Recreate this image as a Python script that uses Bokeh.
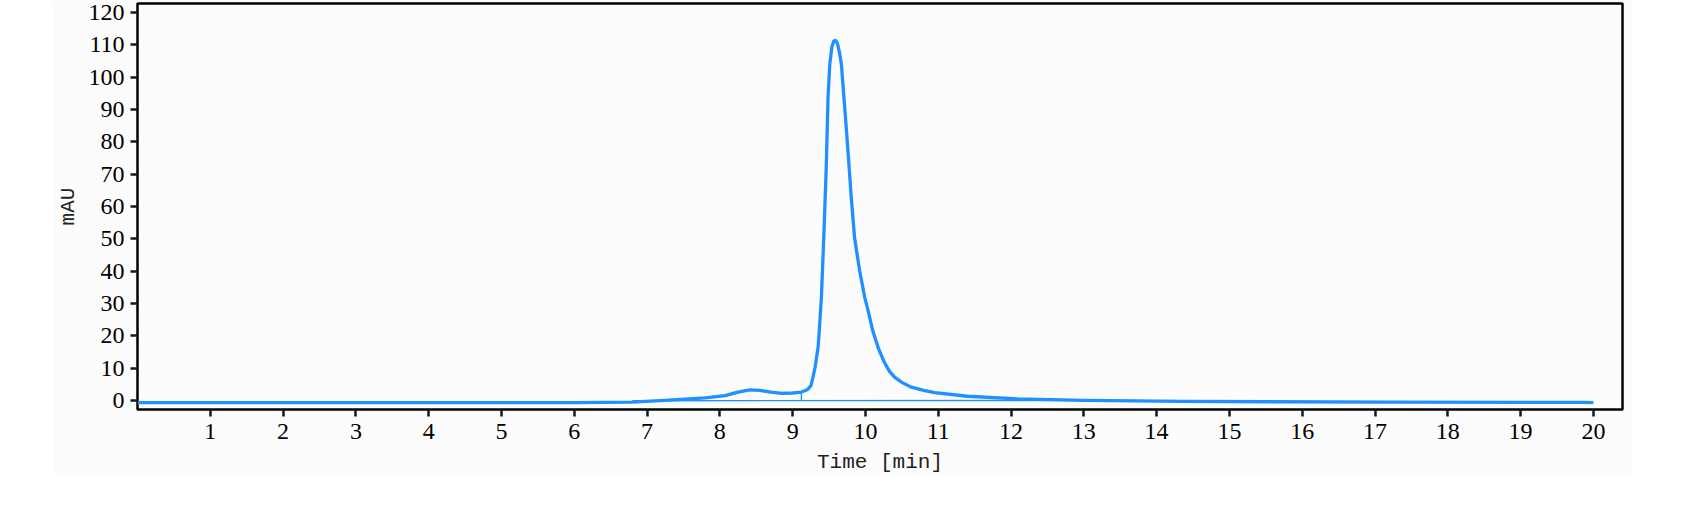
from bokeh.plotting import figure
from bokeh.models import FixedTicker, Range1d
from bokeh.embed import file_html
from bokeh.resources import INLINE

# Chromatogram trace (time in min, signal in mAU)
time_min = [0.0, 6.0, 6.8, 7.3, 7.8, 8.07, 8.25, 8.41, 8.55, 8.7, 8.85, 9.0, 9.12,
            9.2, 9.25, 9.28, 9.31, 9.35, 9.37, 9.395, 9.431, 9.463, 9.486, 9.51,
            9.54, 9.565, 9.59, 9.615, 9.64, 9.67, 9.70, 9.74, 9.77, 9.805, 9.85,
            9.88, 9.92, 9.99, 10.04, 10.10, 10.18, 10.26, 10.33, 10.40, 10.50,
            10.63, 10.80, 10.95, 11.40, 12.09, 13.0, 14.37, 15.6, 17.2, 19.86, 20.0]
signal_mau = [-0.7, -0.7, -0.5, 0.1, 0.8, 1.5, 2.6, 3.3, 3.1, 2.6, 2.2, 2.3, 2.6,
              3.3, 4.5, 7.2, 10.5, 16.5, 23.0, 31.9, 52.5, 73.1, 93.7, 104.0,
              109.5, 111.2, 111.4, 110.5, 108.0, 104.0, 95.0, 83.4, 74.0, 62.8, 50.5,
              46.0, 40.2, 31.9, 27.5, 21.6, 16.0, 11.8, 9.0, 7.2, 5.6,
              4.1, 3.1, 2.4, 1.3, 0.5, 0.0, -0.3, -0.4, -0.5, -0.6, -0.7]

# Integration baseline and peak-start marker
baseline_t = [6.8, 13.5]
baseline_v = [-0.1, 0.0]
marker_t = [9.12, 9.12]
marker_v = [0.0, 2.6]

x_ticks = list(range(1, 21))
y_ticks = list(range(0, 121, 10))

p = figure(width=1579, height=476, output_backend="svg", toolbar_location=None,
           x_range=Range1d(0, 20.4), y_range=Range1d(-2.8, 122.8),
           min_border_left=79, min_border_right=10, min_border_top=3,
           min_border_bottom=67)
p.styles = {"margin-left": "53px", "margin-top": "0px"}

p.background_fill_color = "#FCFCFC"
p.border_fill_color = "#FCFCFC"
p.outline_line_color = "black"
p.outline_line_width = 2.5
p.xgrid.visible = False
p.ygrid.visible = False

p.line(baseline_t, baseline_v, line_color="#1E90FF", line_width=1.3)
p.line(marker_t, marker_v, line_color="#1E90FF", line_width=1.3)
p.line(time_min, signal_mau, line_color="#1E90FF", line_width=3.3,
       line_join="round")

for ax in (p.xaxis[0], p.yaxis[0]):
    ax.axis_line_color = None
    ax.major_tick_line_color = "#0b1a2c"
    ax.major_tick_line_width = 2.5
    ax.major_tick_out = 7
    ax.major_tick_in = 0
    ax.minor_tick_line_color = None
    ax.major_label_text_font = "Liberation Serif"
    ax.major_label_text_font_size = "24px"
    ax.major_label_text_color = "black"
    ax.axis_label_text_font = "Liberation Mono"
    ax.axis_label_text_font_size = "21px"
    ax.axis_label_text_font_style = "normal"
    ax.axis_label_text_color = "#222222"

p.xaxis.ticker = FixedTicker(ticks=x_ticks)
p.yaxis.ticker = FixedTicker(ticks=y_ticks)
p.xaxis.axis_label = "Time [min]"
p.yaxis.axis_label = "mAU"
p.xaxis.major_label_standoff = 7
p.yaxis.major_label_standoff = 6
p.xaxis.axis_label_standoff = 9
p.yaxis.axis_label_standoff = 6

open("out.html", "w").write(file_html(p, INLINE))
